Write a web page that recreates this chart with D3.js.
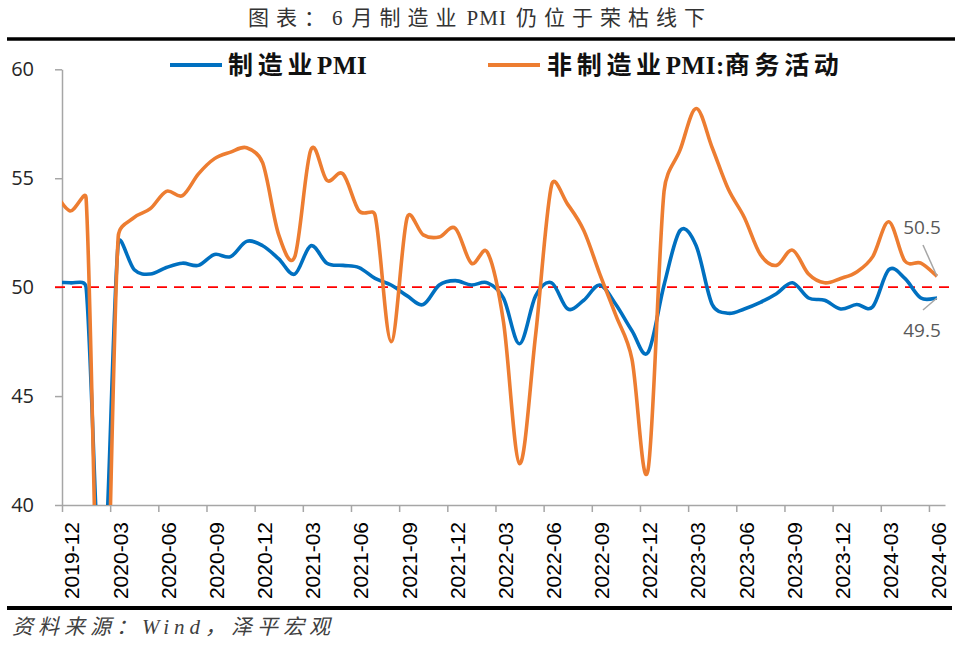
<!DOCTYPE html>
<html><head><meta charset="utf-8">
<script src="https://cdn.jsdelivr.net/npm/d3@7"></script>
<style>body{margin:0;background:#fff}</style>
</head><body><svg id="c" width="960" height="645"></svg>
<script>
// ---- data ----
const categories = [
"2019-11","2019-12",
"2020-01","2020-02","2020-03","2020-04","2020-05","2020-06","2020-07","2020-08","2020-09","2020-10","2020-11","2020-12",
"2021-01","2021-02","2021-03","2021-04","2021-05","2021-06","2021-07","2021-08","2021-09","2021-10","2021-11","2021-12",
"2022-01","2022-02","2022-03","2022-04","2022-05","2022-06","2022-07","2022-08","2022-09","2022-10","2022-11","2022-12",
"2023-01","2023-02","2023-03","2023-04","2023-05","2023-06","2023-07","2023-08","2023-09","2023-10","2023-11","2023-12",
"2024-01","2024-02","2024-03","2024-04","2024-05","2024-06"];
const manufacturing = [
50.2,50.2,
50.0,35.7,52.0,50.8,50.6,50.9,51.1,51.0,51.5,51.4,52.1,51.9,
51.3,50.6,51.9,51.1,51.0,50.9,50.4,50.1,49.6,49.2,50.1,50.3,
50.1,50.2,49.5,47.4,49.6,50.2,49.0,49.4,50.1,49.2,48.0,47.0,
50.1,52.6,51.9,49.2,48.8,49.0,49.3,49.7,50.2,49.5,49.4,49.0,
49.2,49.1,50.8,50.4,49.5,49.5];
const nonManufacturing = [
54.4,53.5,
54.1,29.6,52.3,53.2,53.6,54.4,54.2,55.2,55.9,56.2,56.4,55.7,
52.4,51.4,56.3,54.9,55.2,53.5,53.3,47.5,53.2,52.4,52.3,52.7,
51.1,51.6,48.4,41.9,47.8,54.7,53.8,52.6,50.6,48.7,46.7,41.6,
54.4,56.3,58.2,56.4,54.5,53.2,51.5,51.0,51.7,50.6,50.2,50.4,
50.7,51.4,53.0,51.2,51.1,50.5];
const yTicks = [40,45,50,55,60];
const referenceLevel = 50;
const seriesNames = [["制造业","PMI",""],["非制造业","PMI:","商务活动"]];
const seriesColors = ["#0070C0","#ED7D31"];
const titleParts = ["图表：","6","月制造业","PMI","仍位于荣枯线下"];
const sourceText = "资料来源：Wind，泽平宏观";

// ---- layout ----
const svg = d3.select("#c");
const P = {left:62, right:945, top:69.3, bottom:505};
const shown = categories.slice(1);           // axis categories 2019-12 .. 2024-06
const xi = d3.scaleLinear().domain([0, shown.length]).range([P.left, P.right]);
const px = k => xi(k - 0.5);                  // k = index in categories (0 = 2019-11)
const y = d3.scaleLinear().domain([40,60]).range([P.bottom, P.top]);
const serifCJK = "'Liberation Serif','Noto Sans CJK SC'";

// title + rules
const tt = svg.append("text").attr("x",480).attr("y",25).attr("text-anchor","middle")
  .style("font-family",serifCJK).style("font-size","21px").style("fill","#333");
const titleGap = [0, 0, 8, 3, 9];
titleParts.forEach((p,i)=>{
  tt.append("tspan").attr("dx", titleGap[i]).style("letter-spacing", (i===1||i===3) ? "1px" : "7px").text(p);
});
svg.append("line").attr("x1",7).attr("x2",955).attr("y1",39).attr("y2",39).attr("stroke","#000").attr("stroke-width",3.5);
svg.append("line").attr("x1",7).attr("x2",952).attr("y1",608).attr("y2",608).attr("stroke","#000").attr("stroke-width",4);
svg.append("text").attr("x",12).attr("y",634).attr("textLength",318).attr("lengthAdjust","spacing")
  .style("font-family",serifCJK).style("font-style","italic").style("font-size","21px").style("fill","#404040")
  .text(sourceText);

// y axis
const ya = svg.append("g").attr("transform",`translate(${P.left},0)`)
  .call(d3.axisLeft(y).tickValues(yTicks).tickSize(7).tickSizeOuter(0).tickPadding(21));
ya.select(".domain").attr("stroke","#a6a6a6").attr("stroke-width",1.5);
ya.selectAll(".tick line").attr("stroke","#a6a6a6").attr("stroke-width",1.5);
ya.selectAll(".tick text").style("font-family","'Open Sans','Noto Sans',sans-serif").style("font-size","20px").style("fill","#262626");

// x axis: ticks at category boundaries
const xa = svg.append("g").attr("transform",`translate(0,${P.bottom})`)
  .call(d3.axisBottom(xi).tickValues(d3.range(0, shown.length, 3)).tickSize(7).tickSizeOuter(0).tickFormat(""));
xa.select(".domain").attr("stroke","#a6a6a6").attr("stroke-width",1.5);
xa.selectAll(".tick line").attr("stroke","#a6a6a6").attr("stroke-width",1.5);
// labels centred on categories
const xl = svg.append("g").attr("transform",`translate(0,${P.bottom})`)
  .call(d3.axisBottom(xi).tickValues(d3.range(0.5, shown.length, 3)).tickSize(0).tickFormat(v => shown[Math.floor(v)]));
xl.select(".domain").remove();
xl.selectAll(".tick text").attr("transform","rotate(-90)").attr("text-anchor","end")
  .attr("x",-17).attr("y",0).attr("dy","0.42em")
  .style("font-family","'Liberation Sans',Arial,sans-serif").style("font-size","21px").style("fill","#000");

// reference line
svg.append("line").attr("x1",55).attr("x2",950).attr("y1",y(referenceLevel)).attr("y2",y(referenceLevel))
  .attr("stroke","#FF0000").attr("stroke-width",1.8).attr("stroke-dasharray","10,7");

// smoothed path (Catmull-Rom style bezier, control legs limited to half of segment length)
function smoothPath(pts){
  const p = d3.path();
  const n = pts.length;
  const tan = pts.map((q,i)=>{
    const a = pts[Math.max(0,i-1)], b = pts[Math.min(n-1,i+1)];
    return [(b[0]-a[0])/6, (b[1]-a[1])/6];
  });
  const limit = (t, seg) => {
    const L = Math.hypot(t[0],t[1]), m = 0.5*seg;
    return L > m && L > 0 ? [t[0]*m/L, t[1]*m/L] : t;
  };
  p.moveTo(pts[0][0], pts[0][1]);
  for(let i=0;i<n-1;i++){
    const a = pts[i], b = pts[i+1];
    const seg = Math.hypot(b[0]-a[0], b[1]-a[1]);
    const t0 = limit(tan[i], seg), t1 = limit(tan[i+1], seg);
    p.bezierCurveTo(a[0]+t0[0], a[1]+t0[1], b[0]-t1[0], b[1]-t1[1], b[0], b[1]);
  }
  return p.toString();
}

// clip
svg.append("clipPath").attr("id","clip").append("rect")
  .attr("x",P.left).attr("y",P.top-20).attr("width",P.right-P.left).attr("height",P.bottom-P.top+20);
const g = svg.append("g").attr("clip-path","url(#clip)");
[manufacturing, nonManufacturing].forEach((s,j)=>{
  const pts = s.map((v,i)=>[px(i), y(v)]);
  g.append("path").attr("d",smoothPath(pts)).attr("fill","none")
    .attr("stroke",seriesColors[j]).attr("stroke-width",3.6).attr("stroke-linejoin","round");
});

// legend
const legend = [
  {x1:170,x2:222,tx:228},
  {x1:488,x2:540,tx:547}
];
legend.forEach((l,j)=>{
  svg.append("line").attr("x1",l.x1).attr("x2",l.x2).attr("y1",65).attr("y2",65)
    .attr("stroke",seriesColors[j]).attr("stroke-width",4);
  const t = svg.append("text").attr("x",l.tx).attr("y",74)
    .style("font-family",serifCJK).style("font-weight","bold").style("font-size","25px").style("fill","#111");
  seriesNames[j].forEach((p,i)=>{
    t.append("tspan").style("letter-spacing", i===1 ? "0.5px" : "4.7px").text(p);
  });
});

// data labels for last values
const last = categories.length-1;
const labelSpec = [
  {series:manufacturing, tx:922, ty:337, lx1:923, ly1:310},
  {series:nonManufacturing, tx:922, ty:234, lx1:923, ly1:245}
];
labelSpec.forEach(s=>{
  const v = s.series[last];
  svg.append("line").attr("x1",s.lx1).attr("y1",s.ly1).attr("x2",px(last)).attr("y2",y(v))
    .attr("stroke","#a6a6a6").attr("stroke-width",1.5);
  svg.append("text").attr("x",s.tx).attr("y",s.ty).attr("text-anchor","middle")
    .style("font-family","'Open Sans','Noto Sans',sans-serif").style("font-size","19px").style("fill","#595959")
    .text(v.toFixed(1));
});
</script></body></html>
